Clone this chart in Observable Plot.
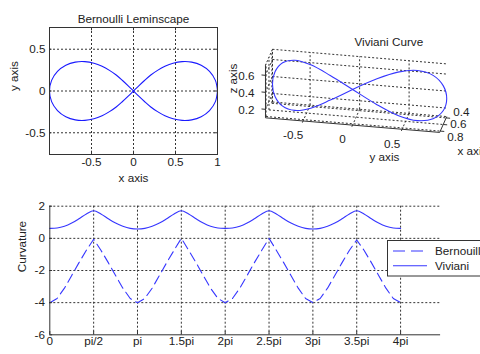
<!DOCTYPE html>
<html>
<head>
<meta charset="utf-8">
<script src="https://cdn.jsdelivr.net/npm/d3@7"></script>
<script src="https://cdn.jsdelivr.net/npm/@observablehq/plot@0.6"></script>
<style>
  html, body { margin: 0; padding: 0; background: #fff; }
  #fig { position: relative; width: 480px; height: 354px; overflow: hidden; background: #fff;
         font-family: "Liberation Sans", Arial, sans-serif; }
  #fig > * { position: absolute; }
</style>
</head>
<body>
<div id="fig"></div>
<script>
// ---- Bernoulli lemniscate (x, y) ----
const lemX = [1, 0.975, 0.905, 0.806, 0.693, 0.579, 0.471, 0.374, 0.286, 0.206, 0.134, 0.066, 0,
  -0.066, -0.134, -0.206, -0.286, -0.374, -0.471, -0.579, -0.693, -0.806, -0.905, -0.975, -1,
  -0.975, -0.905, -0.806, -0.693, -0.579, -0.471, -0.374, -0.286, -0.206, -0.134, -0.066, 0,
  0.066, 0.134, 0.206, 0.286, 0.374, 0.471, 0.579, 0.693, 0.806, 0.905, 0.975, 1];
const lemY = [0, 0.127, 0.234, 0.308, 0.346, 0.352, 0.333, 0.296, 0.247, 0.191, 0.129, 0.065, 0,
  -0.065, -0.129, -0.191, -0.247, -0.296, -0.333, -0.352, -0.346, -0.308, -0.234, -0.127, 0,
  0.127, 0.234, 0.308, 0.346, 0.352, 0.333, 0.296, 0.247, 0.191, 0.129, 0.065, 0,
  -0.065, -0.129, -0.191, -0.247, -0.296, -0.333, -0.352, -0.346, -0.308, -0.234, -0.127, 0];
const lemXTicks = [-0.5, 0, 0.5, 1];
const lemYTicks = [-0.5, 0, 0.5];

// ---- Viviani curve (x, y, z) ----
const vivX = [0.84, 0.81, 0.72, 0.60, 0.48, 0.39, 0.36, 0.39, 0.48, 0.60, 0.72, 0.81, 0.84,
  0.81, 0.72, 0.60, 0.48, 0.39, 0.36, 0.39, 0.48, 0.60, 0.72, 0.81, 0.84];
const vivY = [0, 0.23, 0.44, 0.62, 0.76, 0.85, 0.88, 0.85, 0.76, 0.62, 0.44, 0.23, 0,
  -0.23, -0.44, -0.62, -0.76, -0.85, -0.88, -0.85, -0.76, -0.62, -0.44, -0.23, 0];
const vivZ = [0.52, 0.65, 0.72, 0.71, 0.62, 0.47, 0.31, 0.18, 0.11, 0.12, 0.21, 0.36, 0.52,
  0.65, 0.72, 0.71, 0.62, 0.47, 0.31, 0.18, 0.11, 0.12, 0.21, 0.36, 0.52];
const vivXTicks = [0.4, 0.6, 0.8];
const vivYTicks = [-0.5, 0, 0.5];
const vivZTicks = [0.2, 0.4, 0.6];

// ---- Curvature along the parameter (t given in multiples of pi) ----
const tPi = [0, 0.083, 0.167, 0.25, 0.333, 0.417, 0.5, 0.583, 0.667, 0.75, 0.833, 0.917, 1,
  1.083, 1.167, 1.25, 1.333, 1.417, 1.5, 1.583, 1.667, 1.75, 1.833, 1.917, 2,
  2.083, 2.167, 2.25, 2.333, 2.417, 2.5, 2.583, 2.667, 2.75, 2.833, 2.917, 3,
  3.083, 3.167, 3.25, 3.333, 3.417, 3.5, 3.583, 3.667, 3.75, 3.833, 3.917, 4];
const bernCurv = [-4, -3.74, -3.10, -2.31, -1.51, -0.74, -0.06, -0.74, -1.51, -2.31, -3.10, -3.74, -4,
  -3.74, -3.10, -2.31, -1.51, -0.74, 0, -0.74, -1.51, -2.31, -3.10, -3.74, -4,
  -3.74, -3.10, -2.31, -1.51, -0.74, 0, -0.74, -1.51, -2.31, -3.10, -3.74, -4,
  -3.74, -3.10, -2.31, -1.51, -0.74, -0.1, -0.74, -1.51, -2.31, -3.10, -3.74, -4];
const vivCurv = [0.62, 0.64, 0.75, 0.95, 1.22, 1.52, 1.72, 1.52, 1.22, 0.95, 0.75, 0.62, 0.58,
  0.62, 0.75, 0.95, 1.22, 1.52, 1.72, 1.52, 1.22, 0.95, 0.75, 0.64, 0.62,
  0.64, 0.75, 0.95, 1.22, 1.52, 1.72, 1.52, 1.22, 0.95, 0.75, 0.62, 0.58,
  0.62, 0.75, 0.95, 1.22, 1.52, 1.72, 1.52, 1.22, 0.95, 0.75, 0.64, 0.62];
const tTicksPi = [0, 0.5, 1, 1.5, 2, 2.5, 3, 3.5, 4];
const tTickLabels = ["0", "pi/2", "pi", "1.5pi", "2pi", "2.5pi", "3pi", "3.5pi", "4pi"];
const curvYTicks = [2, 0, -2, -4, -6];
const seriesNames = ["Bernouill", "Viviani"];

// ---- shared styling ----
const FONT = '"Liberation Sans", Arial, sans-serif';
const FS = 11.7;
const INK = "#222";
const LINE = "#3636ff";
const GRID = {stroke: "#333", strokeDasharray: "2,2", strokeWidth: 1};
const baseStyle = {fontFamily: FONT, fontSize: FS + "px", color: INK, background: "transparent", overflow: "visible"};
const txt = {fontSize: FS, fill: INK};
const fig = document.getElementById("fig");
function place(el, left, top) {
  el.style.left = left + "px";
  el.style.top = top + "px";
  fig.appendChild(el);
}

// ================= Bernoulli lemniscate =================
const lemPts = lemX.map((x, i) => ({x, y: lemY[i]}));
const lemDomY = [-0.76, 0.76];
const p1 = Plot.plot({
  width: 240, height: 200,
  marginLeft: 49, marginRight: 23, marginTop: 27, marginBottom: 46,
  x: {domain: [-1, 1], axis: null},
  y: {domain: lemDomY, axis: null},
  style: baseStyle,
  marks: [
    Plot.ruleX(lemXTicks.filter(d => d < 1), GRID),
    Plot.ruleY(lemYTicks, GRID),
    Plot.line(lemPts, {x: "x", y: "y", stroke: "#1a1aff", strokeWidth: 1.1, curve: "catmull-rom"}),
    Plot.frame({stroke: "#333"}),
    // inward ticks
    Plot.ruleX(lemXTicks, {y1: lemDomY[0], y2: lemDomY[0] + 0.04, stroke: "#333"}),
    Plot.ruleX(lemXTicks, {y1: lemDomY[1], y2: lemDomY[1] - 0.04, stroke: "#333"}),
    Plot.ruleY(lemYTicks, {x1: -1, x2: -0.97, stroke: "#333"}),
    Plot.ruleY(lemYTicks, {x1: 1, x2: 0.97, stroke: "#333"}),
    Plot.text(lemXTicks, {x: d => d, text: d => String(d), frameAnchor: "bottom", dy: 11, ...txt}),
    Plot.text(lemYTicks, {y: d => d, text: d => String(d), frameAnchor: "left", textAnchor: "end", dx: -4, ...txt}),
    Plot.text(["Bernoulli Leminscape"], {text: d => d, frameAnchor: "top", dy: -13, ...txt}),
    Plot.text(["x axis"], {text: d => d, frameAnchor: "bottom", dy: 27, ...txt}),
    Plot.text(["y axis"], {text: d => d, frameAnchor: "left", dx: -35.5, rotate: -90, ...txt})
  ]
});
place(p1, 0, 0);

// ================= Viviani curve (orthographic 3-D view) =================
const xLim3 = [0.36, 0.84], yLim3 = [-0.88, 0.88], zLim3 = [0.1, 0.72];
// screen-right and screen-up components of each data axis
const view = {rx: -0.1475, uy: -0.0976, ux: -0.388, x0: 0.6};
function proj(x, y, z) {
  return {R: y + view.rx * (x - view.x0), U: z + view.uy * y + view.ux * (x - view.x0)};
}
function seg(a, b) {
  const p = proj(...a), q = proj(...b);
  return {x1: p.R, y1: p.U, x2: q.R, y2: q.U};
}
const [xa, xb] = xLim3, [ya, yb] = yLim3, [za, zb] = zLim3;
const grid3 = [];
// back wall (x = xa)
vivYTicks.forEach(y => grid3.push(seg([xa, y, za], [xa, y, zb])));
vivZTicks.forEach(z => grid3.push(seg([xa, ya, z], [xa, yb, z])));
grid3.push(seg([xa, ya, zb], [xa, yb, zb]));
grid3.push(seg([xa, ya, za], [xa, ya, zb]));
// side wall (y = ya)
vivXTicks.forEach(x => grid3.push(seg([x, ya, za], [x, ya, zb])));
vivZTicks.forEach(z => grid3.push(seg([xa, ya, z], [xb, ya, z])));
grid3.push(seg([xa, ya, zb], [xb, ya, zb]));
// floor (z = za)
vivXTicks.forEach(x => grid3.push(seg([x, ya, za], [x, yb, za])));
vivYTicks.forEach(y => grid3.push(seg([xa, y, za], [xb, y, za])));
grid3.push(seg([xa, ya, za], [xa, yb, za]));
// axis lines and ticks
const axes3 = [
  seg([xb, ya, za], [xb, ya, zb]),
  seg([xb, ya, za], [xb, yb, za]),
  seg([xb, yb, za], [xa, yb, za])
];
vivZTicks.forEach(z => axes3.push(seg([xb, ya, z], [xb, ya - 0.04, z])));
vivYTicks.forEach(y => axes3.push(seg([xb, y, za], [xb + 0.05, y, za])));
vivXTicks.forEach(x => axes3.push(seg([x, yb, za], [x, yb + 0.04, za])));

const vivPts = vivX.map((x, i) => proj(x, vivY[i], vivZ[i]));
const linkOpts = {x1: "x1", y1: "y1", x2: "x2", y2: "y2"};
const p2 = Plot.plot({
  width: 260, height: 150,
  marginLeft: 0, marginRight: 0, marginTop: 0, marginBottom: 0,
  x: {domain: [-1, 1], range: [36.6, 234.6], axis: null},
  y: {domain: [0, 1], range: [105.2, 20.2], axis: null},
  style: baseStyle,
  marks: [
    Plot.link(grid3, {...linkOpts, ...GRID}),
    Plot.link(axes3, {...linkOpts, stroke: "#333", strokeWidth: 1}),
    Plot.line(vivPts, {x: "R", y: "U", stroke: LINE, strokeWidth: 1.1, curve: "catmull-rom"}),
    Plot.text(vivZTicks, {x: z => proj(xb, ya, z).R, y: z => proj(xb, ya, z).U, text: d => String(d),
      textAnchor: "end", dx: -11, dy: 1, ...txt}),
    Plot.text(vivYTicks, {x: y => proj(xb, y, za).R, y: y => proj(xb, y, za).U, text: d => String(d),
      dx: -10, dy: 14.5, ...txt}),
    // depth-axis labels fan out slightly so they stay legible
    ...vivXTicks.map(x => Plot.text([x], {x: d => proj(d, yb, za).R, y: d => proj(d, yb, za).U,
      text: d => String(d), textAnchor: "start", dx: 7, dy: (x - 0.6) * 30, ...txt})),
    Plot.text(["Viviani Curve"], {text: d => d, frameAnchor: "top-left", dx: 134, dy: 17, ...txt}),
    Plot.text(["z axis"], {text: d => d, frameAnchor: "top-left", dx: 8.5, dy: 73, rotate: -90, ...txt}),
    Plot.text(["y axis"], {text: d => d, frameAnchor: "top-left", dx: 149, dy: 132, ...txt}),
    Plot.text(["x axis"], {text: d => d, frameAnchor: "top-left", dx: 237, dy: 126.5, textAnchor: "start", ...txt})
  ]
});
place(p2, 220, 20);

// ================= Curvature =================
const PI = Math.PI;
const curvPts = tPi.map((t, i) => ({t: t * PI, bern: bernCurv[i], viv: vivCurv[i]}));
const tTicks = tTicksPi.map(t => t * PI);
const p3 = Plot.plot({
  width: 480, height: 159,
  marginLeft: 49.3, marginRight: 39.9, marginTop: 10.7, marginBottom: 19.7,
  x: {domain: [0, 14], axis: null},
  y: {domain: [-6, 2], axis: null},
  style: baseStyle,
  marks: [
    Plot.ruleX(tTicks.slice(1), GRID),
    Plot.ruleY([2, 0, -2, -4], GRID),
    Plot.line(curvPts, {x: "t", y: "bern", stroke: LINE, strokeWidth: 1.1, strokeDasharray: "9,5"}),
    Plot.line(curvPts, {x: "t", y: "viv", stroke: LINE, strokeWidth: 1.1, curve: "catmull-rom"}),
    Plot.ruleX([0], {stroke: "#333"}),
    Plot.ruleY([-6], {stroke: "#333"}),
    Plot.ruleX(tTicks, {y1: -6, y2: -5.8, stroke: "#333"}),
    Plot.ruleY(curvYTicks, {x1: 0, x2: 0.1, stroke: "#333"}),
    Plot.text(tTicks, {x: d => d, text: (d, i) => tTickLabels[i], frameAnchor: "bottom", dy: 10, ...txt}),
    Plot.text(curvYTicks, {y: d => d, text: d => String(d), frameAnchor: "left", textAnchor: "end", dx: -4.8, ...txt}),
    Plot.text(["Curvature"], {text: d => d, frameAnchor: "left", dx: -27.6, dy: 1.7, rotate: -90, ...txt})
  ]
});
place(p3, 0, 195);

// ================= Legend =================
const leg = d3.create("svg").attr("width", 480).attr("height", 354)
  .style("overflow", "visible").style("pointer-events", "none");
leg.append("rect").attr("x", 387.5).attr("y", 240.5).attr("width", 120).attr("height", 35.5)
  .attr("fill", "#fff").attr("stroke", "#333").attr("stroke-width", 1);
const rows = [{name: seriesNames[0], dash: "12,6", y: 251}, {name: seriesNames[1], dash: null, y: 265.7}];
rows.forEach(r => {
  leg.append("line").attr("x1", 393).attr("x2", 427).attr("y1", r.y).attr("y2", r.y)
    .attr("stroke", LINE).attr("stroke-width", 1.1).attr("stroke-dasharray", r.dash);
  leg.append("text").attr("x", 435).attr("y", r.y).attr("dy", "0.35em")
    .attr("font-family", FONT).attr("font-size", FS).attr("fill", INK).text(r.name);
});
place(leg.node(), 0, 0);
</script>
</body>
</html>
